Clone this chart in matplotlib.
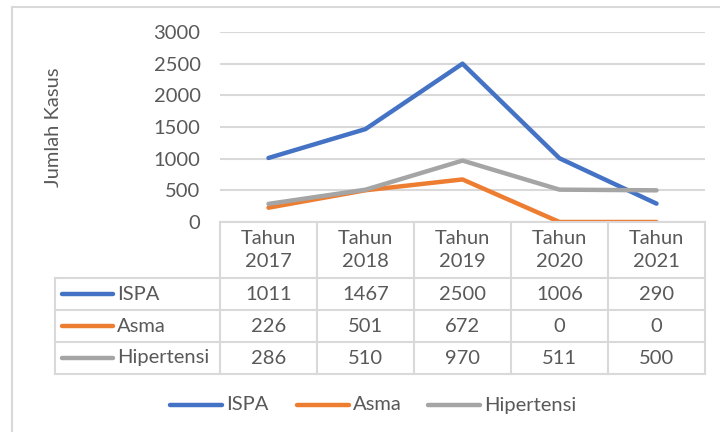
import matplotlib.pyplot as plt
from matplotlib.lines import Line2D
from matplotlib.transforms import blended_transform_factory

# data
years = ["Tahun\n2017", "Tahun\n2018", "Tahun\n2019", "Tahun\n2020", "Tahun\n2021"]
ispa = [1011, 1467, 2500, 1006, 290]
asma = [226, 501, 672, 0, 0]
hipertensi = [286, 510, 970, 511, 500]
series_names = ["ISPA", "Asma", "Hipertensi"]
colors = ["#4472C4", "#ED7D31", "#A5A5A5"]

plt.rcParams['font.family'] = ['Lato', 'DejaVu Sans']
txt_col = "#595959"
grid_col = "#D9D9D9"
fs = 14.5

W, H = 720, 432
fig = plt.figure(figsize=(7.2, 4.32), dpi=100)

def fx(x):
    return x / W

def fy(y):
    return 1 - y / H

# plot area
ax = fig.add_axes([fx(220), fy(222), fx(705) - fx(220), fy(32) - fy(222)])
ax.set_xlim(-0.5, len(years) - 0.5)
ax.set_ylim(0, 3000)
ax.set_yticks(range(0, 3001, 500))
ax.set_xticks([])
for s in ax.spines.values():
    s.set_visible(False)
ax.yaxis.grid(True, color=grid_col, lw=1.5)
ax.set_axisbelow(True)
ax.tick_params(axis='y', length=0, labelsize=fs, labelcolor=txt_col, pad=14)
ax.set_ylabel("Jumlah Kasus", fontsize=fs, color=txt_col)
ax.yaxis.set_label_coords(-0.326, 0.5)

xs = range(len(years))
for vals, c in zip([ispa, asma, hipertensi], colors):
    ax.plot(xs, vals, color=c, lw=3.2, solid_capstyle='round', zorder=3)

# data table under the plot
tr = blended_transform_factory(ax.transData, fig.transFigure)
edges = [i - 0.5 for i in range(len(years) + 1)]
row_y = [222, 278, 310, 342, 374]
lbl_left = 55

def hline(x0, x1, y):
    fig.add_artist(Line2D([fx(x0), fx(x1)], [fy(y), fy(y)], color=grid_col, lw=1.5))

def vline(x, y0, y1):
    fig.add_artist(Line2D([fx(x), fx(x)], [fy(y0), fy(y1)], color=grid_col, lw=1.5))

hline(220, 705, row_y[0])
for y in row_y[1:]:
    hline(lbl_left, 705, y)
for e in edges:
    xp = ax.transData.transform((e, 0))[0]
    vline(xp, row_y[0], row_y[-1])
vline(lbl_left, row_y[1], row_y[-1])

for i, yr in enumerate(years):
    fig.text(i, fy(250), yr, transform=tr, ha='center', va='center',
             fontsize=fs, color=txt_col, linespacing=1.45)

for r, (name, vals, c) in enumerate(zip(series_names, [ispa, asma, hipertensi], colors)):
    yc = (row_y[r + 1] + row_y[r + 2]) / 2
    fig.add_artist(Line2D([fx(62), fx(113)], [fy(yc), fy(yc)], color=c, lw=3.2,
                          solid_capstyle='round'))
    fig.text(fx(117), fy(yc), name, ha='left', va='center', fontsize=fs, color=txt_col)
    for i, v in enumerate(vals):
        fig.text(i, fy(yc), str(v), transform=tr, ha='center', va='center',
                 fontsize=fs, color=txt_col)

# legend along the bottom
leg_x = [170, 297, 428]
for x0, name, c in zip(leg_x, series_names, colors):
    fig.add_artist(Line2D([fx(x0), fx(x0 + 52)], [fy(405), fy(405)], color=c, lw=3.2,
                          solid_capstyle='round'))
    fig.text(fx(x0 + 56), fy(405), name, ha='left', va='center', fontsize=fs, color=txt_col)

# chart frame
fig.add_artist(Line2D([fx(12), fx(720)], [fy(7), fy(7)], color=grid_col, lw=1.5))
fig.add_artist(Line2D([fx(12), fx(12)], [fy(7), fy(432)], color=grid_col, lw=1.5))

fig.savefig("out.png", dpi=100)
